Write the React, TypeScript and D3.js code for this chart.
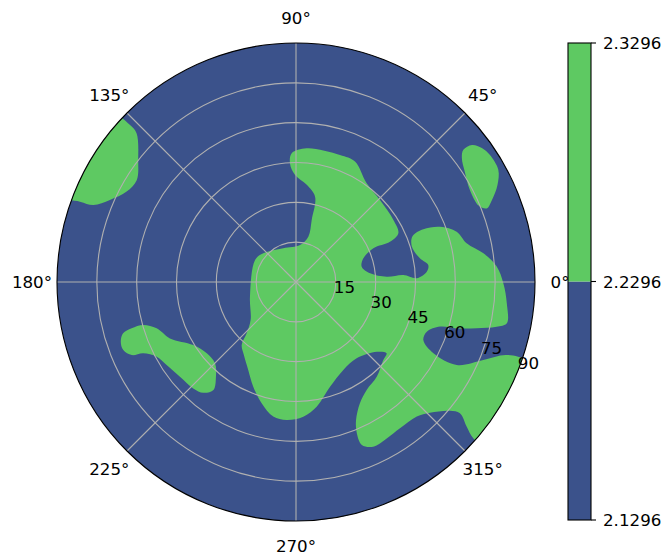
import React from 'react';
import * as d3 from 'd3';

// contour levels and the colours of the two filled bands (viridis)
const levels = [2.1296, 2.2296, 2.3296];
const levelColors = ['#3b528b', '#5ec962'];
const thetaTicks = [0, 45, 90, 135, 180, 225, 270, 315];
const rTicks = [15, 30, 45, 60, 75, 90];
const rMax = 90;
const rLabelAngle = -22.5;

// boundaries of the regions above 2.2296, as [theta (deg), r]
const mainRegion: [number, number][] = [
  [91.9, 48.5], [85.4, 50.5], [70.9, 50.6], [63.9, 50.5], [54.4, 45.7], [44.3, 44.2], [32.5, 43.5],
  [25.5, 42.7], [23.2, 38.5], [23.6, 31.8], [19.4, 26.9], [13.1, 25.4], [6.7, 28.1], [3.3, 34.2],
  [3.7, 40.5], [1.8, 45.5], [4.5, 49.4], [7.3, 50.2], [10.8, 47.5], [17.0, 45.6], [21.5, 47.2],
  [22.5, 51.9], [21.0, 58.1], [17.4, 63.4], [12.8, 65.9], [8.7, 71.4], [4.4, 75.8], [-0.4, 78.1],
  [-5.8, 79.8], [-11.1, 80.9], [-12.6, 77.4], [-14.4, 70.2], [-16.1, 63.0], [-17.2, 56.8],
  [-20.8, 52.7], [-24.5, 52.7], [-27.4, 58.3], [-27.3, 68.1], [-22.6, 76.4], [-19.1, 84.0],
  [-19.0, 92], [-24, 100], [-32, 100], [-41, 96], [-41.4, 89.0], [-40.3, 84.3], [-38.7, 79.1],
  [-39.9, 75.6], [-44.3, 70.5], [-48.1, 68.1], [-54.6, 67.6], [-59.9, 68.1], [-64.9, 68.5],
  [-68.0, 66.2], [-68.1, 61.4], [-66.5, 56.7], [-62.2, 51.6], [-56.8, 48.6], [-49.6, 46.9],
  [-41.8, 44.1], [-38.2, 43.4], [-40.8, 40.2], [-51.5, 36.7], [-61.7, 37.6], [-72.0, 41.5],
  [-80.6, 47.6], [-86.9, 50.8], [-93.9, 52.1], [-99.6, 51.4], [-105.8, 47.5], [-112.2, 42.6],
  [-118.5, 37.7], [-125.5, 33.8], [-130.8, 31.3], [-133.9, 26.8], [-140, 22.3], [-162.3, 18.2],
  [151.8, 17.5], [138.7, 16.4], [110.6, 13.6], [83.8, 14.0], [74.8, 17.7], [75.8, 24.1],
  [77.4, 32.9], [83.7, 36.8], [90.5, 40.3], [92.9, 44.7],
];
const upperLeftRegion: [number, number][] = [
  [137.9, 96], [136.6, 86.0], [137.0, 82.1], [142.3, 75.1], [147.4, 71.2], [151.9, 72.3],
  [156.2, 76.6], [159.2, 81.6], [159.6, 86.8], [160, 96], [150, 100],
];
const upperRightRegion: [number, number][] = [
  [38.3, 80.3], [37.9, 84.0], [35.8, 86.3], [33.2, 87.3], [29.0, 87.1], [25.7, 84.2],
  [22.7, 80.0], [21.1, 77.0], [22.6, 74.6], [27.9, 74.1], [33.1, 75.9], [36.8, 78.0],
];
const lowerLeftRegion: [number, number][] = [
  [196.5, 67.9], [195.7, 64.3], [195.7, 59.7], [198.4, 55.3], [204.1, 52.0], [211.5, 45.4],
  [218.6, 43.0], [225.1, 43.2], [229.8, 46.7], [232.6, 51.2], [230.1, 54.4], [226.0, 55.7],
  [219.2, 56.4], [212.7, 57.9], [208.2, 59.5], [205.0, 63.5], [204.0, 67.7], [201.5, 69.9],
  [198.8, 69.7],
];
const highRegions = [mainRegion, upperLeftRegion, upperRightRegion, lowerLeftRegion];

const FONT = "'DejaVu Sans', 'Liberation Sans', sans-serif";
const FS = 16.7;

export default function App() {
  const W = 666, H = 555;
  const cx = 296, cy = 282, R = 239;
  const r = d3.scaleLinear().domain([0, rMax]).range([0, R]);
  const ang = (deg: number) => ((90 - deg) * Math.PI) / 180;
  const line = d3
    .lineRadial<[number, number]>()
    .angle((d) => ang(d[0]))
    .radius((d) => r(d[1]))
    .curve(d3.curveCatmullRomClosed.alpha(0.5));

  const cbX = 568, cbW = 23, cbTop = 43, cbBot = 520;
  const cb = d3.scaleLinear().domain([levels[0], levels[levels.length - 1]]).range([cbBot, cbTop]);

  const xy = (deg: number, rr: number) => [
    cx + rr * Math.cos((deg * Math.PI) / 180),
    cy - rr * Math.sin((deg * Math.PI) / 180),
  ];

  return (
    <svg width={W} height={H} style={{ position: 'absolute', left: 0, top: 0, background: '#fff' }}
      fontFamily={FONT}>
      <defs>
        <clipPath id="polarClip">
          <circle cx={0} cy={0} r={R} />
        </clipPath>
      </defs>
      <g transform={`translate(${cx},${cy})`}>
        <circle r={R} fill={levelColors[0]} />
        <g clipPath="url(#polarClip)">
          {highRegions.map((reg, i) => (
            <path key={i} d={line(reg) || ''} fill={levelColors[1]} />
          ))}
        </g>
        {rTicks.filter((t) => t < rMax).map((t) => (
          <circle key={t} r={r(t)} fill="none" stroke="#b0b0b0" strokeWidth={1.1} />
        ))}
        {thetaTicks.map((t) => {
          const [x, y] = [R * Math.cos((t * Math.PI) / 180), -R * Math.sin((t * Math.PI) / 180)];
          return <line key={t} x1={0} y1={0} x2={x} y2={y} stroke="#b0b0b0" strokeWidth={1.1} />;
        })}
        <circle r={R} fill="none" stroke="#000" strokeWidth={1.1} />
      </g>
      {thetaTicks.map((t) => {
        const [x, y] = xy(t, 264);
        return (
          <text key={t} x={x} y={y} fontSize={FS} textAnchor="middle" dominantBaseline="central" fill="#000">
            {`${t}°`}
          </text>
        );
      })}
      {rTicks.map((t) => {
        const [x, y] = xy(rLabelAngle, r(t));
        return (
          <text key={t} x={x + 1} y={y - 4.5} fontSize={FS} textAnchor="start" fill="#000">
            {t}
          </text>
        );
      })}
      {/* colorbar */}
      {levelColors.map((c, i) => (
        <rect key={i} x={cbX} y={cb(levels[i + 1])} width={cbW} height={cb(levels[i]) - cb(levels[i + 1])} fill={c} />
      ))}
      <rect x={cbX} y={cbTop} width={cbW} height={cbBot - cbTop} fill="none" stroke="#000" strokeWidth={1.1} />
      {levels.map((l) => (
        <g key={l}>
          <line x1={cbX + cbW} x2={cbX + cbW + 5} y1={cb(l)} y2={cb(l)} stroke="#000" strokeWidth={1.1} />
          <text x={cbX + cbW + 12} y={cb(l)} fontSize={FS} dominantBaseline="central" fill="#000">
            {l.toFixed(4)}
          </text>
        </g>
      ))}
    </svg>
  );
}
